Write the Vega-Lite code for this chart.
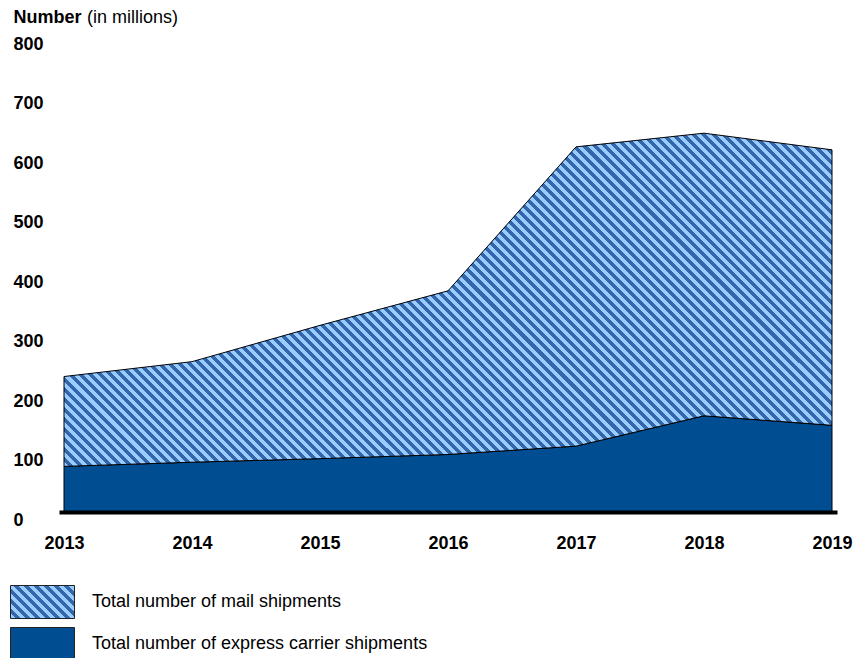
{
  "$schema": "https://vega.github.io/schema/vega-lite/v6.json",
  "autosize": {"type": "none"},
  "width": 778,
  "height": 476,
  "padding": {"left": 59, "top": 35, "right": 25, "bottom": 147},
  "config": {"font": "Liberation Sans", "view": {"stroke": null}},
  "data": {
    "values": [
      {"year": 2013, "series": "Total number of express carrier shipments", "value": 75},
      {"year": 2014, "series": "Total number of express carrier shipments", "value": 82},
      {"year": 2015, "series": "Total number of express carrier shipments", "value": 88},
      {"year": 2016, "series": "Total number of express carrier shipments", "value": 95},
      {"year": 2017, "series": "Total number of express carrier shipments", "value": 109},
      {"year": 2018, "series": "Total number of express carrier shipments", "value": 160},
      {"year": 2019, "series": "Total number of express carrier shipments", "value": 144},
      {"year": 2013, "series": "Total number of mail shipments", "value": 151},
      {"year": 2014, "series": "Total number of mail shipments", "value": 169},
      {"year": 2015, "series": "Total number of mail shipments", "value": 224},
      {"year": 2016, "series": "Total number of mail shipments", "value": 275},
      {"year": 2017, "series": "Total number of mail shipments", "value": 503},
      {"year": 2018, "series": "Total number of mail shipments", "value": 475},
      {"year": 2019, "series": "Total number of mail shipments", "value": 463}
    ]
  },
  "transform": [
    {"stack": "value", "groupby": ["year"], "sort": [{"field": "series", "order": "ascending"}], "as": ["v0", "v1"]}
  ],
  "mark": {"type": "area", "stroke": "black", "strokeWidth": 1},
  "encoding": {
    "x": {
      "field": "year",
      "type": "quantitative",
      "scale": {"domain": [2013, 2019], "padding": 5, "nice": false, "zero": false},
      "axis": {
        "values": [2013, 2014, 2015, 2016, 2017, 2018, 2019],
        "format": "d",
        "grid": false,
        "ticks": false,
        "tickSize": 0,
        "offset": 1,
        "domainColor": "black",
        "domainWidth": 4,
        "labelFontSize": 18,
        "labelFontWeight": "bold",
        "labelColor": "black",
        "labelPadding": 22,
        "labelFlush": false,
        "labelOverlap": false,
        "title": "(in millions)",
        "titleX": 27.5,
        "titleY": -490,
        "titleAlign": "left",
        "titleAngle": 0,
        "titleBaseline": "alphabetic",
        "titleFontSize": 18,
        "titleFontWeight": "normal",
        "titleColor": "black"
      }
    },
    "y": {
      "field": "v1",
      "type": "quantitative",
      "scale": {"domain": [0, 800], "nice": false},
      "axis": {
        "values": [0, 100, 200, 300, 400, 500, 600, 700, 800],
        "grid": false,
        "ticks": false,
        "tickSize": 0,
        "domain": false,
        "labelAlign": "left",
        "labelBaseline": "top",
        "labelPadding": 46,
        "labelFontSize": 18,
        "labelFontWeight": "bold",
        "labelColor": "black",
        "title": "Number",
        "titleX": -46,
        "titleY": -13,
        "titleAlign": "left",
        "titleAngle": 0,
        "titleBaseline": "alphabetic",
        "titleFontSize": 18,
        "titleFontWeight": "bold",
        "titleColor": "black"
      }
    },
    "y2": {"field": "v0"},
    "fill": {
      "field": "series",
      "type": "nominal",
      "scale": {
        "domain": ["Total number of mail shipments", "Total number of express carrier shipments"],
        "range": [
          {"expr": "{gradient: 'linear', x1: 0, y1: 1, x2: 1.2395, y2: 0.361, stops: [{offset: 0, color: '#9cf'}, {offset: 0.05, color: '#9cf'}, {offset: 0.05, color: '#36a'}, {offset: 0.1, color: '#36a'}, {offset: 0.1, color: '#9cf'}, {offset: 0.15, color: '#9cf'}, {offset: 0.15, color: '#36a'}, {offset: 0.2, color: '#36a'}, {offset: 0.2, color: '#9cf'}, {offset: 0.25, color: '#9cf'}, {offset: 0.25, color: '#36a'}, {offset: 0.3, color: '#36a'}, {offset: 0.3, color: '#9cf'}, {offset: 0.35, color: '#9cf'}, {offset: 0.35, color: '#36a'}, {offset: 0.4, color: '#36a'}, {offset: 0.4, color: '#9cf'}, {offset: 0.45, color: '#9cf'}, {offset: 0.45, color: '#36a'}, {offset: 0.5, color: '#36a'}, {offset: 0.5, color: '#9cf'}, {offset: 0.55, color: '#9cf'}, {offset: 0.55, color: '#36a'}, {offset: 0.6, color: '#36a'}, {offset: 0.6, color: '#9cf'}, {offset: 0.65, color: '#9cf'}, {offset: 0.65, color: '#36a'}, {offset: 0.7, color: '#36a'}, {offset: 0.7, color: '#9cf'}, {offset: 0.75, color: '#9cf'}, {offset: 0.75, color: '#36a'}, {offset: 0.8, color: '#36a'}, {offset: 0.8, color: '#9cf'}, {offset: 0.85, color: '#9cf'}, {offset: 0.85, color: '#36a'}, {offset: 0.9, color: '#36a'}, {offset: 0.9, color: '#9cf'}, {offset: 0.95, color: '#9cf'}, {offset: 0.95, color: '#36a'}, {offset: 1, color: '#36a'}]}"},
          "#004d91"
        ]
      },
      "condition": {
        "test": "datum.series === 'Total number of mail shipments'",
        "value": {
          "gradient": "linear", "x1": 0, "y1": 1, "x2": 1.3753, "y2": 0.4033,
          "stops": [
            {"offset":0,"color":"#9cf"},
            {"offset":0.004,"color":"#9cf"},{"offset":0.004,"color":"#36a"},{"offset":0.008,"color":"#36a"},{"offset":0.008,"color":"#9cf"},
            {"offset":0.012,"color":"#9cf"},{"offset":0.012,"color":"#36a"},{"offset":0.016,"color":"#36a"},{"offset":0.016,"color":"#9cf"},
            {"offset":0.02,"color":"#9cf"},{"offset":0.02,"color":"#36a"},{"offset":0.024,"color":"#36a"},{"offset":0.024,"color":"#9cf"},
            {"offset":0.028,"color":"#9cf"},{"offset":0.028,"color":"#36a"},{"offset":0.032,"color":"#36a"},{"offset":0.032,"color":"#9cf"},
            {"offset":0.036,"color":"#9cf"},{"offset":0.036,"color":"#36a"},{"offset":0.04,"color":"#36a"},{"offset":0.04,"color":"#9cf"},
            {"offset":0.044,"color":"#9cf"},{"offset":0.044,"color":"#36a"},{"offset":0.048,"color":"#36a"},{"offset":0.048,"color":"#9cf"},
            {"offset":0.052,"color":"#9cf"},{"offset":0.052,"color":"#36a"},{"offset":0.056,"color":"#36a"},{"offset":0.056,"color":"#9cf"},
            {"offset":0.06,"color":"#9cf"},{"offset":0.06,"color":"#36a"},{"offset":0.064,"color":"#36a"},{"offset":0.064,"color":"#9cf"},
            {"offset":0.068,"color":"#9cf"},{"offset":0.068,"color":"#36a"},{"offset":0.072,"color":"#36a"},{"offset":0.072,"color":"#9cf"},
            {"offset":0.076,"color":"#9cf"},{"offset":0.076,"color":"#36a"},{"offset":0.08,"color":"#36a"},{"offset":0.08,"color":"#9cf"},
            {"offset":0.084,"color":"#9cf"},{"offset":0.084,"color":"#36a"},{"offset":0.088,"color":"#36a"},{"offset":0.088,"color":"#9cf"},
            {"offset":0.092,"color":"#9cf"},{"offset":0.092,"color":"#36a"},{"offset":0.096,"color":"#36a"},{"offset":0.096,"color":"#9cf"},
            {"offset":0.1,"color":"#9cf"},{"offset":0.1,"color":"#36a"},{"offset":0.104,"color":"#36a"},{"offset":0.104,"color":"#9cf"},
            {"offset":0.108,"color":"#9cf"},{"offset":0.108,"color":"#36a"},{"offset":0.112,"color":"#36a"},{"offset":0.112,"color":"#9cf"},
            {"offset":0.116,"color":"#9cf"},{"offset":0.116,"color":"#36a"},{"offset":0.12,"color":"#36a"},{"offset":0.12,"color":"#9cf"},
            {"offset":0.124,"color":"#9cf"},{"offset":0.124,"color":"#36a"},{"offset":0.128,"color":"#36a"},{"offset":0.128,"color":"#9cf"},
            {"offset":0.132,"color":"#9cf"},{"offset":0.132,"color":"#36a"},{"offset":0.136,"color":"#36a"},{"offset":0.136,"color":"#9cf"},
            {"offset":0.14,"color":"#9cf"},{"offset":0.14,"color":"#36a"},{"offset":0.144,"color":"#36a"},{"offset":0.144,"color":"#9cf"},
            {"offset":0.148,"color":"#9cf"},{"offset":0.148,"color":"#36a"},{"offset":0.152,"color":"#36a"},{"offset":0.152,"color":"#9cf"},
            {"offset":0.156,"color":"#9cf"},{"offset":0.156,"color":"#36a"},{"offset":0.16,"color":"#36a"},{"offset":0.16,"color":"#9cf"},
            {"offset":0.164,"color":"#9cf"},{"offset":0.164,"color":"#36a"},{"offset":0.168,"color":"#36a"},{"offset":0.168,"color":"#9cf"},
            {"offset":0.172,"color":"#9cf"},{"offset":0.172,"color":"#36a"},{"offset":0.176,"color":"#36a"},{"offset":0.176,"color":"#9cf"},
            {"offset":0.18,"color":"#9cf"},{"offset":0.18,"color":"#36a"},{"offset":0.184,"color":"#36a"},{"offset":0.184,"color":"#9cf"},
            {"offset":0.188,"color":"#9cf"},{"offset":0.188,"color":"#36a"},{"offset":0.192,"color":"#36a"},{"offset":0.192,"color":"#9cf"},
            {"offset":0.196,"color":"#9cf"},{"offset":0.196,"color":"#36a"},{"offset":0.2,"color":"#36a"},{"offset":0.2,"color":"#9cf"},
            {"offset":0.204,"color":"#9cf"},{"offset":0.204,"color":"#36a"},{"offset":0.208,"color":"#36a"},{"offset":0.208,"color":"#9cf"},
            {"offset":0.212,"color":"#9cf"},{"offset":0.212,"color":"#36a"},{"offset":0.216,"color":"#36a"},{"offset":0.216,"color":"#9cf"},
            {"offset":0.22,"color":"#9cf"},{"offset":0.22,"color":"#36a"},{"offset":0.224,"color":"#36a"},{"offset":0.224,"color":"#9cf"},
            {"offset":0.228,"color":"#9cf"},{"offset":0.228,"color":"#36a"},{"offset":0.232,"color":"#36a"},{"offset":0.232,"color":"#9cf"},
            {"offset":0.236,"color":"#9cf"},{"offset":0.236,"color":"#36a"},{"offset":0.24,"color":"#36a"},{"offset":0.24,"color":"#9cf"},
            {"offset":0.244,"color":"#9cf"},{"offset":0.244,"color":"#36a"},{"offset":0.248,"color":"#36a"},{"offset":0.248,"color":"#9cf"},
            {"offset":0.252,"color":"#9cf"},{"offset":0.252,"color":"#36a"},{"offset":0.256,"color":"#36a"},{"offset":0.256,"color":"#9cf"},
            {"offset":0.26,"color":"#9cf"},{"offset":0.26,"color":"#36a"},{"offset":0.264,"color":"#36a"},{"offset":0.264,"color":"#9cf"},
            {"offset":0.268,"color":"#9cf"},{"offset":0.268,"color":"#36a"},{"offset":0.272,"color":"#36a"},{"offset":0.272,"color":"#9cf"},
            {"offset":0.276,"color":"#9cf"},{"offset":0.276,"color":"#36a"},{"offset":0.28,"color":"#36a"},{"offset":0.28,"color":"#9cf"},
            {"offset":0.284,"color":"#9cf"},{"offset":0.284,"color":"#36a"},{"offset":0.288,"color":"#36a"},{"offset":0.288,"color":"#9cf"},
            {"offset":0.292,"color":"#9cf"},{"offset":0.292,"color":"#36a"},{"offset":0.296,"color":"#36a"},{"offset":0.296,"color":"#9cf"},
            {"offset":0.3,"color":"#9cf"},{"offset":0.3,"color":"#36a"},{"offset":0.304,"color":"#36a"},{"offset":0.304,"color":"#9cf"},
            {"offset":0.308,"color":"#9cf"},{"offset":0.308,"color":"#36a"},{"offset":0.312,"color":"#36a"},{"offset":0.312,"color":"#9cf"},
            {"offset":0.316,"color":"#9cf"},{"offset":0.316,"color":"#36a"},{"offset":0.32,"color":"#36a"},{"offset":0.32,"color":"#9cf"},
            {"offset":0.324,"color":"#9cf"},{"offset":0.324,"color":"#36a"},{"offset":0.328,"color":"#36a"},{"offset":0.328,"color":"#9cf"},
            {"offset":0.332,"color":"#9cf"},{"offset":0.332,"color":"#36a"},{"offset":0.336,"color":"#36a"},{"offset":0.336,"color":"#9cf"},
            {"offset":0.34,"color":"#9cf"},{"offset":0.34,"color":"#36a"},{"offset":0.344,"color":"#36a"},{"offset":0.344,"color":"#9cf"},
            {"offset":0.348,"color":"#9cf"},{"offset":0.348,"color":"#36a"},{"offset":0.352,"color":"#36a"},{"offset":0.352,"color":"#9cf"},
            {"offset":0.356,"color":"#9cf"},{"offset":0.356,"color":"#36a"},{"offset":0.36,"color":"#36a"},{"offset":0.36,"color":"#9cf"},
            {"offset":0.364,"color":"#9cf"},{"offset":0.364,"color":"#36a"},{"offset":0.368,"color":"#36a"},{"offset":0.368,"color":"#9cf"},
            {"offset":0.372,"color":"#9cf"},{"offset":0.372,"color":"#36a"},{"offset":0.376,"color":"#36a"},{"offset":0.376,"color":"#9cf"},
            {"offset":0.38,"color":"#9cf"},{"offset":0.38,"color":"#36a"},{"offset":0.384,"color":"#36a"},{"offset":0.384,"color":"#9cf"},
            {"offset":0.388,"color":"#9cf"},{"offset":0.388,"color":"#36a"},{"offset":0.392,"color":"#36a"},{"offset":0.392,"color":"#9cf"},
            {"offset":0.396,"color":"#9cf"},{"offset":0.396,"color":"#36a"},{"offset":0.4,"color":"#36a"},{"offset":0.4,"color":"#9cf"},
            {"offset":0.404,"color":"#9cf"},{"offset":0.404,"color":"#36a"},{"offset":0.408,"color":"#36a"},{"offset":0.408,"color":"#9cf"},
            {"offset":0.412,"color":"#9cf"},{"offset":0.412,"color":"#36a"},{"offset":0.416,"color":"#36a"},{"offset":0.416,"color":"#9cf"},
            {"offset":0.42,"color":"#9cf"},{"offset":0.42,"color":"#36a"},{"offset":0.424,"color":"#36a"},{"offset":0.424,"color":"#9cf"},
            {"offset":0.428,"color":"#9cf"},{"offset":0.428,"color":"#36a"},{"offset":0.432,"color":"#36a"},{"offset":0.432,"color":"#9cf"},
            {"offset":0.436,"color":"#9cf"},{"offset":0.436,"color":"#36a"},{"offset":0.44,"color":"#36a"},{"offset":0.44,"color":"#9cf"},
            {"offset":0.444,"color":"#9cf"},{"offset":0.444,"color":"#36a"},{"offset":0.448,"color":"#36a"},{"offset":0.448,"color":"#9cf"},
            {"offset":0.452,"color":"#9cf"},{"offset":0.452,"color":"#36a"},{"offset":0.456,"color":"#36a"},{"offset":0.456,"color":"#9cf"},
            {"offset":0.46,"color":"#9cf"},{"offset":0.46,"color":"#36a"},{"offset":0.464,"color":"#36a"},{"offset":0.464,"color":"#9cf"},
            {"offset":0.468,"color":"#9cf"},{"offset":0.468,"color":"#36a"},{"offset":0.472,"color":"#36a"},{"offset":0.472,"color":"#9cf"},
            {"offset":0.476,"color":"#9cf"},{"offset":0.476,"color":"#36a"},{"offset":0.48,"color":"#36a"},{"offset":0.48,"color":"#9cf"},
            {"offset":0.484,"color":"#9cf"},{"offset":0.484,"color":"#36a"},{"offset":0.488,"color":"#36a"},{"offset":0.488,"color":"#9cf"},
            {"offset":0.492,"color":"#9cf"},{"offset":0.492,"color":"#36a"},{"offset":0.496,"color":"#36a"},{"offset":0.496,"color":"#9cf"},
            {"offset":0.5,"color":"#9cf"},{"offset":0.5,"color":"#36a"},{"offset":0.504,"color":"#36a"},{"offset":0.504,"color":"#9cf"},
            {"offset":0.508,"color":"#9cf"},{"offset":0.508,"color":"#36a"},{"offset":0.512,"color":"#36a"},{"offset":0.512,"color":"#9cf"},
            {"offset":0.516,"color":"#9cf"},{"offset":0.516,"color":"#36a"},{"offset":0.52,"color":"#36a"},{"offset":0.52,"color":"#9cf"},
            {"offset":0.524,"color":"#9cf"},{"offset":0.524,"color":"#36a"},{"offset":0.528,"color":"#36a"},{"offset":0.528,"color":"#9cf"},
            {"offset":0.532,"color":"#9cf"},{"offset":0.532,"color":"#36a"},{"offset":0.536,"color":"#36a"},{"offset":0.536,"color":"#9cf"},
            {"offset":0.54,"color":"#9cf"},{"offset":0.54,"color":"#36a"},{"offset":0.544,"color":"#36a"},{"offset":0.544,"color":"#9cf"},
            {"offset":0.548,"color":"#9cf"},{"offset":0.548,"color":"#36a"},{"offset":0.552,"color":"#36a"},{"offset":0.552,"color":"#9cf"},
            {"offset":0.556,"color":"#9cf"},{"offset":0.556,"color":"#36a"},{"offset":0.56,"color":"#36a"},{"offset":0.56,"color":"#9cf"},
            {"offset":0.564,"color":"#9cf"},{"offset":0.564,"color":"#36a"},{"offset":0.568,"color":"#36a"},{"offset":0.568,"color":"#9cf"},
            {"offset":0.572,"color":"#9cf"},{"offset":0.572,"color":"#36a"},{"offset":0.576,"color":"#36a"},{"offset":0.576,"color":"#9cf"},
            {"offset":0.58,"color":"#9cf"},{"offset":0.58,"color":"#36a"},{"offset":0.584,"color":"#36a"},{"offset":0.584,"color":"#9cf"},
            {"offset":0.588,"color":"#9cf"},{"offset":0.588,"color":"#36a"},{"offset":0.592,"color":"#36a"},{"offset":0.592,"color":"#9cf"},
            {"offset":0.596,"color":"#9cf"},{"offset":0.596,"color":"#36a"},{"offset":0.6,"color":"#36a"},{"offset":0.6,"color":"#9cf"},
            {"offset":0.604,"color":"#9cf"},{"offset":0.604,"color":"#36a"},{"offset":0.608,"color":"#36a"},{"offset":0.608,"color":"#9cf"},
            {"offset":0.612,"color":"#9cf"},{"offset":0.612,"color":"#36a"},{"offset":0.616,"color":"#36a"},{"offset":0.616,"color":"#9cf"},
            {"offset":0.62,"color":"#9cf"},{"offset":0.62,"color":"#36a"},{"offset":0.624,"color":"#36a"},{"offset":0.624,"color":"#9cf"},
            {"offset":0.628,"color":"#9cf"},{"offset":0.628,"color":"#36a"},{"offset":0.632,"color":"#36a"},{"offset":0.632,"color":"#9cf"},
            {"offset":0.636,"color":"#9cf"},{"offset":0.636,"color":"#36a"},{"offset":0.64,"color":"#36a"},{"offset":0.64,"color":"#9cf"},
            {"offset":0.644,"color":"#9cf"},{"offset":0.644,"color":"#36a"},{"offset":0.648,"color":"#36a"},{"offset":0.648,"color":"#9cf"},
            {"offset":0.652,"color":"#9cf"},{"offset":0.652,"color":"#36a"},{"offset":0.656,"color":"#36a"},{"offset":0.656,"color":"#9cf"},
            {"offset":0.66,"color":"#9cf"},{"offset":0.66,"color":"#36a"},{"offset":0.664,"color":"#36a"},{"offset":0.664,"color":"#9cf"},
            {"offset":0.668,"color":"#9cf"},{"offset":0.668,"color":"#36a"},{"offset":0.672,"color":"#36a"},{"offset":0.672,"color":"#9cf"},
            {"offset":0.676,"color":"#9cf"},{"offset":0.676,"color":"#36a"},{"offset":0.68,"color":"#36a"},{"offset":0.68,"color":"#9cf"},
            {"offset":0.684,"color":"#9cf"},{"offset":0.684,"color":"#36a"},{"offset":0.688,"color":"#36a"},{"offset":0.688,"color":"#9cf"},
            {"offset":0.692,"color":"#9cf"},{"offset":0.692,"color":"#36a"},{"offset":0.696,"color":"#36a"},{"offset":0.696,"color":"#9cf"},
            {"offset":0.7,"color":"#9cf"},{"offset":0.7,"color":"#36a"},{"offset":0.704,"color":"#36a"},{"offset":0.704,"color":"#9cf"},
            {"offset":0.708,"color":"#9cf"},{"offset":0.708,"color":"#36a"},{"offset":0.712,"color":"#36a"},{"offset":0.712,"color":"#9cf"},
            {"offset":0.716,"color":"#9cf"},{"offset":0.716,"color":"#36a"},{"offset":0.72,"color":"#36a"},{"offset":0.72,"color":"#9cf"},
            {"offset":0.724,"color":"#9cf"},{"offset":0.724,"color":"#36a"},{"offset":0.728,"color":"#36a"},{"offset":0.728,"color":"#9cf"},
            {"offset":0.732,"color":"#9cf"},{"offset":0.732,"color":"#36a"},{"offset":0.736,"color":"#36a"},{"offset":0.736,"color":"#9cf"},
            {"offset":0.74,"color":"#9cf"},{"offset":0.74,"color":"#36a"},{"offset":0.744,"color":"#36a"},{"offset":0.744,"color":"#9cf"},
            {"offset":0.748,"color":"#9cf"},{"offset":0.748,"color":"#36a"},{"offset":0.752,"color":"#36a"},{"offset":0.752,"color":"#9cf"},
            {"offset":0.756,"color":"#9cf"},{"offset":0.756,"color":"#36a"},{"offset":0.76,"color":"#36a"},{"offset":0.76,"color":"#9cf"},
            {"offset":0.764,"color":"#9cf"},{"offset":0.764,"color":"#36a"},{"offset":0.768,"color":"#36a"},{"offset":0.768,"color":"#9cf"},
            {"offset":0.772,"color":"#9cf"},{"offset":0.772,"color":"#36a"},{"offset":0.776,"color":"#36a"},{"offset":0.776,"color":"#9cf"},
            {"offset":0.78,"color":"#9cf"},{"offset":0.78,"color":"#36a"},{"offset":0.784,"color":"#36a"},{"offset":0.784,"color":"#9cf"},
            {"offset":0.788,"color":"#9cf"},{"offset":0.788,"color":"#36a"},{"offset":0.792,"color":"#36a"},{"offset":0.792,"color":"#9cf"},
            {"offset":0.796,"color":"#9cf"},{"offset":0.796,"color":"#36a"},{"offset":0.8,"color":"#36a"},{"offset":0.8,"color":"#9cf"},
            {"offset":0.804,"color":"#9cf"},{"offset":0.804,"color":"#36a"},{"offset":0.808,"color":"#36a"},{"offset":0.808,"color":"#9cf"},
            {"offset":0.812,"color":"#9cf"},{"offset":0.812,"color":"#36a"},{"offset":0.816,"color":"#36a"},{"offset":0.816,"color":"#9cf"},
            {"offset":0.82,"color":"#9cf"},{"offset":0.82,"color":"#36a"},{"offset":0.824,"color":"#36a"},{"offset":0.824,"color":"#9cf"},
            {"offset":0.828,"color":"#9cf"},{"offset":0.828,"color":"#36a"},{"offset":0.832,"color":"#36a"},{"offset":0.832,"color":"#9cf"},
            {"offset":0.836,"color":"#9cf"},{"offset":0.836,"color":"#36a"},{"offset":0.84,"color":"#36a"},{"offset":0.84,"color":"#9cf"},
            {"offset":0.844,"color":"#9cf"},{"offset":0.844,"color":"#36a"},{"offset":0.848,"color":"#36a"},{"offset":0.848,"color":"#9cf"},
            {"offset":0.852,"color":"#9cf"},{"offset":0.852,"color":"#36a"},{"offset":0.856,"color":"#36a"},{"offset":0.856,"color":"#9cf"},
            {"offset":0.86,"color":"#9cf"},{"offset":0.86,"color":"#36a"},{"offset":0.864,"color":"#36a"},{"offset":0.864,"color":"#9cf"},
            {"offset":0.868,"color":"#9cf"},{"offset":0.868,"color":"#36a"},{"offset":0.872,"color":"#36a"}
          ]
        }
      },
      "legend": {
        "orient": "none",
        "legendX": -33.5,
        "legendY": 550,
        "title": null,
        "direction": "vertical",
        "padding": 0,
        "symbolType": "M-1.939,-1H1.939V1H-1.939Z",
        "symbolSize": 1089,
        "symbolStrokeColor": "#222222",
        "symbolStrokeWidth": 1,
        "symbolOpacity": 1,
        "labelFontSize": 18,
        "labelColor": "black",
        "labelOffset": 32.5,
        "labelLimit": 0,
        "rowPadding": 4
      }
    }
  }
}
